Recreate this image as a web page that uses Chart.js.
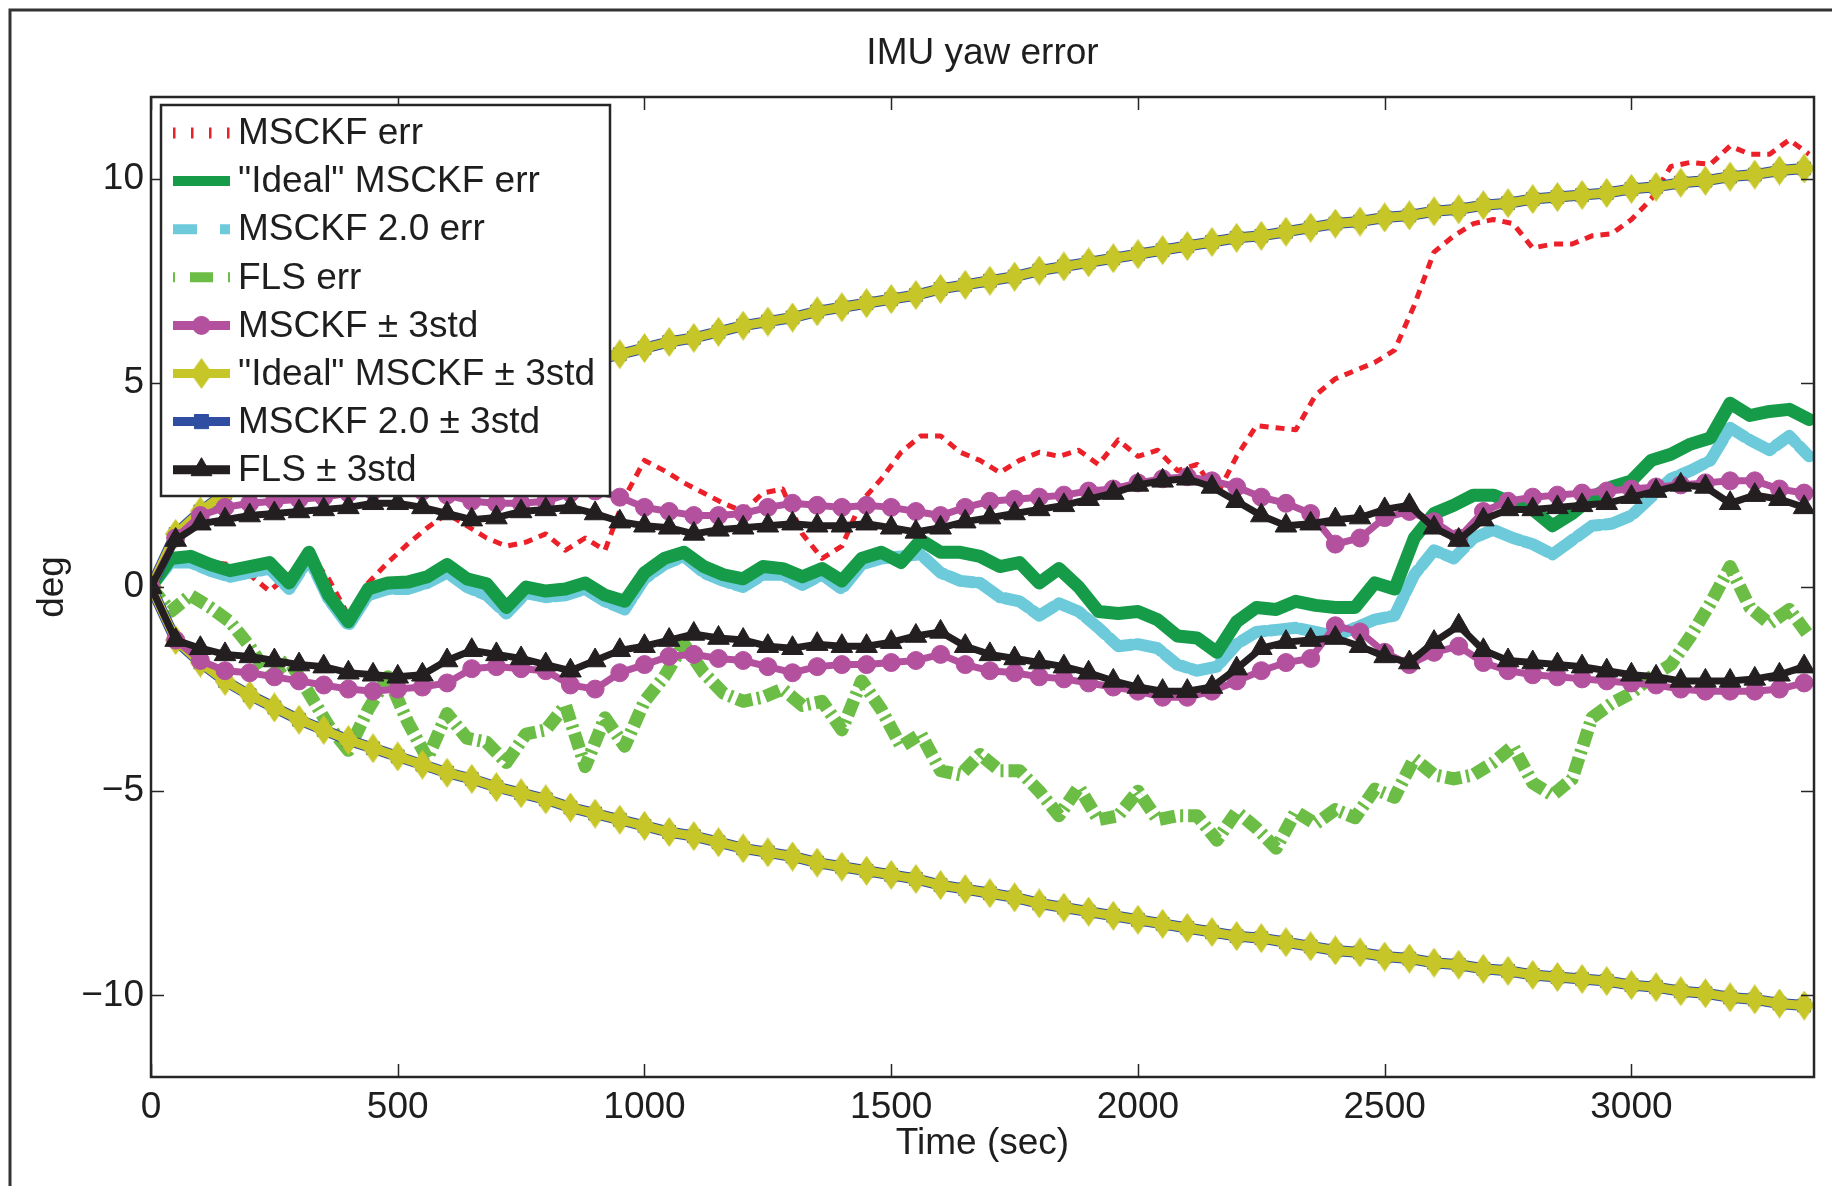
<!DOCTYPE html>
<html>
<head>
<meta charset="utf-8">
<title>IMU yaw error</title>
<script src="https://cdn.jsdelivr.net/npm/chart.js@4.4.1/dist/chart.umd.min.js"></script>
<style>
  html, body { margin: 0; padding: 0; background: #fff; }
  #wrap { width: 1832px; height: 1186px; position: relative; }
</style>
</head>
<body>
<div id="wrap"><canvas id="yawChart" width="1832" height="1186"></canvas></div>
<script>
// sample times in seconds: errors every 40 s, 3-sigma bounds every 50 s
const errTimes = Array.from({ length: 85 }, (_, i) => i * 40);
const stdTimes = Array.from({ length: 68 }, (_, i) => i * 50);

const xTicks = [0, 500, 1000, 1500, 2000, 2500, 3000];
const yTicks = [-10, -5, 0, 5, 10];

// yaw errors (deg)
const msckfErr = [
  0, 0.6, 0.7, 0.6, 0.55, 0.3, -0.1, 0.3, 0.8, 0.2,
  -0.7, 0.1, 0.6, 1.05, 1.45, 1.8, 1.5, 1.2, 1.0, 1.1,
  1.3, 0.9, 1.2, 0.9, 2.2, 3.1, 2.85, 2.55, 2.3, 2.05,
  1.85, 2.3, 2.4, 1.3, 0.7, 1.0, 2.1, 2.65, 3.3, 3.7,
  3.7, 3.3, 3.1, 2.8, 3.1, 3.3, 3.2, 3.35, 3.0, 3.6,
  3.2, 3.35, 2.85, 3.0, 2.25, 3.2, 3.95, 3.9, 3.85, 4.7,
  5.1, 5.3, 5.5, 5.8, 6.9, 8.2, 8.6, 8.9, 9.0, 8.9,
  8.3, 8.4, 8.4, 8.6, 8.65, 9.0, 9.5, 10.3, 10.4, 10.35,
  10.8, 10.6, 10.6, 10.95, 10.6
];
const idealErr = [
  0, 0.7, 0.75, 0.55, 0.4, 0.5, 0.6, 0.1, 0.85, -0.2,
  -0.85, -0.05, 0.1, 0.12, 0.25, 0.55, 0.2, 0.08, -0.5, 0.0,
  -0.1, -0.05, 0.1, -0.2, -0.35, 0.35, 0.7, 0.85, 0.5, 0.3,
  0.2, 0.5, 0.45, 0.25, 0.45, 0.15, 0.7, 0.85, 0.6, 1.15,
  0.85, 0.85, 0.75, 0.5, 0.6, 0.1, 0.45, 0.0, -0.6, -0.65,
  -0.6, -0.8, -1.2, -1.25, -1.6, -0.85, -0.5, -0.55, -0.35, -0.45,
  -0.5, -0.5, 0.1, -0.05, 1.2, 1.8, 2.0, 2.25, 2.25, 2.05,
  1.9, 1.5, 1.8, 2.2, 2.45, 2.6, 3.1, 3.25, 3.5, 3.65,
  4.5, 4.2, 4.3, 4.35, 4.1
];
const msckf2Err = [
  0, 0.6, 0.6, 0.4, 0.25, 0.35, 0.45, -0.05, 0.7, -0.3,
  -0.95, -0.2, -0.05, -0.05, 0.1, 0.35, 0.0, -0.2, -0.65, -0.15,
  -0.25, -0.2, -0.05, -0.35, -0.55, 0.2, 0.55, 0.75, 0.35, 0.15,
  0.0, 0.3, 0.3, 0.05, 0.3, -0.05, 0.55, 0.7, 0.75, 0.8,
  0.35, 0.15, 0.1, -0.25, -0.35, -0.7, -0.4, -0.6, -1.0, -1.45,
  -1.4, -1.5, -1.9, -2.05, -1.95, -1.4, -1.1, -1.05, -1.0, -1.1,
  -1.2, -1.0, -0.8, -0.7, 0.3, 0.9, 0.7, 1.2, 1.4, 1.2,
  1.05, 0.8, 1.15, 1.5, 1.55, 1.75, 2.2, 2.65, 2.85, 3.1,
  3.9, 3.6, 3.35, 3.7, 3.2
];
const flsErr = [
  0, -0.6, -0.2, -0.5, -0.85, -1.45, -2.2, -1.8, -2.6, -3.4,
  -4.0, -3.0, -2.2, -3.3, -4.2, -3.1, -3.7, -3.8, -4.3, -3.6,
  -3.5, -2.9, -4.4, -3.2, -3.9, -2.8, -2.2, -1.4, -2.1, -2.6,
  -2.8, -2.7, -2.5, -2.9, -2.8, -3.5, -2.3, -3.0, -3.9, -3.6,
  -4.5, -4.6, -4.1, -4.5, -4.5, -5.0, -5.6, -4.9, -5.7, -5.6,
  -5.0, -5.7, -5.6, -5.6, -6.2, -5.5, -5.9, -6.4, -5.5, -5.8,
  -5.45, -5.65, -4.95, -5.15, -4.2, -4.6, -4.7, -4.6, -4.3, -3.9,
  -4.8, -5.1, -4.7, -3.2, -2.85, -2.6, -2.2, -1.9, -1.2, -0.4,
  0.5, -0.5, -0.9, -0.55, -1.2
];

// +/- 3 std bounds (deg)
const msckfUp = [
  0, 1.2, 1.75, 1.95, 2.05, 2.1, 2.15, 2.2, 2.3, 2.35,
  2.4, 2.35, 2.25, 2.1, 2.05, 2.05, 2.1, 2.3, 2.35, 2.2,
  1.95, 1.85, 1.75, 1.75, 1.8, 1.95, 2.05, 2.0, 1.95, 2.0,
  1.95, 1.85, 1.75, 1.95, 2.1, 2.15, 2.2, 2.25, 2.35, 2.4,
  2.55, 2.65, 2.7, 2.6, 2.45, 2.2, 2.05, 1.8, 1.05, 1.2,
  1.7, 1.85, 1.6, 1.2, 1.85, 2.1, 2.2, 2.25, 2.3, 2.35,
  2.4, 2.45, 2.5, 2.55, 2.6, 2.6, 2.4, 2.3
];
const msckfLo = [
  0, -1.3, -1.8, -2.05, -2.1, -2.2, -2.3, -2.4, -2.5, -2.55,
  -2.5, -2.45, -2.35, -2.0, -1.95, -2.0, -2.05, -2.4, -2.5, -2.1,
  -1.9, -1.7, -1.65, -1.75, -1.8, -1.95, -2.1, -1.95, -1.9, -1.9,
  -1.85, -1.8, -1.65, -1.9, -2.05, -2.1, -2.2, -2.25, -2.35, -2.45,
  -2.55, -2.7, -2.7, -2.55, -2.3, -2.05, -1.85, -1.75, -0.95, -1.1,
  -1.6, -1.9, -1.6, -1.45, -1.85, -2.05, -2.15, -2.2, -2.25, -2.3,
  -2.35, -2.4, -2.5, -2.55, -2.55, -2.55, -2.5, -2.35
];
const idealStd = [
  0, 1.3, 1.85, 2.3, 2.65, 2.95, 3.25, 3.5, 3.75, 3.95,
  4.15, 4.35, 4.55, 4.7, 4.9, 5.05, 5.2, 5.4, 5.55, 5.7,
  5.85, 6.0, 6.1, 6.25, 6.4, 6.5, 6.6, 6.75, 6.85, 6.95,
  7.05, 7.15, 7.3, 7.4, 7.5, 7.6, 7.75, 7.85, 7.95, 8.05,
  8.15, 8.25, 8.35, 8.45, 8.55, 8.6, 8.7, 8.8, 8.9, 8.95,
  9.05, 9.1, 9.2, 9.25, 9.35, 9.4, 9.5, 9.55, 9.6, 9.65,
  9.75, 9.8, 9.9, 9.95, 10.05, 10.1, 10.2, 10.25
];
const msckf2Std = [
  0, 1.3, 1.85, 2.3, 2.65, 2.95, 3.25, 3.5, 3.75, 3.95,
  4.15, 4.35, 4.55, 4.7, 4.9, 5.05, 5.2, 5.4, 5.55, 5.7,
  5.85, 6.0, 6.1, 6.25, 6.4, 6.5, 6.6, 6.75, 6.85, 6.95,
  7.05, 7.15, 7.3, 7.4, 7.5, 7.6, 7.75, 7.85, 7.95, 8.05,
  8.15, 8.25, 8.35, 8.45, 8.55, 8.6, 8.7, 8.8, 8.9, 8.95,
  9.05, 9.1, 9.2, 9.25, 9.35, 9.4, 9.5, 9.55, 9.6, 9.65,
  9.75, 9.8, 9.9, 9.95, 10.05, 10.1, 10.2, 10.25
];
const flsUp = [
  0, 1.15, 1.55, 1.65, 1.75, 1.8, 1.85, 1.9, 1.95, 2.05,
  2.05, 1.95, 1.8, 1.65, 1.7, 1.85, 1.9, 1.95, 1.8, 1.6,
  1.5, 1.45, 1.3, 1.4, 1.45, 1.5, 1.55, 1.5, 1.5, 1.55,
  1.45, 1.35, 1.45, 1.6, 1.7, 1.8, 1.9, 2.0, 2.15, 2.3,
  2.5, 2.6, 2.65, 2.45, 2.1, 1.75, 1.5, 1.55, 1.65, 1.7,
  1.9, 2.0, 1.45, 1.15, 1.65, 1.9, 1.9, 1.95, 2.0, 2.05,
  2.2, 2.35, 2.5, 2.45, 2.05, 2.25, 2.15, 1.95
];
const flsLo = [
  0, -1.3, -1.5, -1.65, -1.7, -1.8, -1.9, -1.95, -2.1, -2.15,
  -2.2, -2.15, -1.8, -1.55, -1.65, -1.75, -1.9, -2.05, -1.8, -1.55,
  -1.45, -1.3, -1.15, -1.25, -1.3, -1.45, -1.5, -1.4, -1.45, -1.45,
  -1.35, -1.2, -1.1, -1.45, -1.65, -1.75, -1.85, -1.95, -2.1, -2.3,
  -2.45, -2.55, -2.55, -2.45, -2.0, -1.5, -1.35, -1.3, -1.25, -1.45,
  -1.7, -1.85, -1.35, -0.95, -1.55, -1.8, -1.85, -1.9, -1.95, -2.05,
  -2.15, -2.2, -2.3, -2.3, -2.3, -2.25, -2.15, -1.95
];

const legendLabels = [
  'MSCKF err',
  '"Ideal" MSCKF err',
  'MSCKF 2.0 err',
  'FLS err',
  'MSCKF \u00b1 3std',
  '"Ideal" MSCKF \u00b1 3std',
  'MSCKF 2.0 \u00b1 3std',
  'FLS \u00b1 3std'
];

const FONT = "'Liberation Sans', Arial, Helvetica, sans-serif";
const FSIZE = 37;
const TEXT = '#1e1e1e';
const C = {
  red: '#ec2028',
  green: '#169b48',
  cyan: '#6ccadb',
  lime: '#6cbd45',
  magenta: '#b4519f',
  olive: '#c6c628',
  blue: '#2f4ea1',
  black: '#231f20'
};

// tall diamond marker, like the stretched Matlab 'd' marker of the figure
function diamond(color, w, h) {
  const c = document.createElement('canvas');
  c.width = w; c.height = h;
  const g = c.getContext('2d');
  g.fillStyle = color;
  g.beginPath();
  g.moveTo(w / 2, 0); g.lineTo(w, h / 2); g.lineTo(w / 2, h); g.lineTo(0, h / 2);
  g.closePath();
  g.fill();
  return c;
}
const diamondMark = diamond(C.olive, 21, 30);
const diamondLegend = diamond(C.olive, 22, 31);

const pts = (ts, vs) => vs.map((v, i) => ({ x: ts[i], y: v }));
const neg = vs => vs.map(v => -v);

function errSet(data, color, width, dash, cap, order) {
  return {
    data: pts(errTimes, data),
    borderColor: color,
    borderWidth: width,
    borderDash: dash,
    borderCapStyle: cap,
    borderJoinStyle: 'round',
    pointRadius: 0,
    tension: 0,
    order: order
  };
}
function stdSet(data, color, style, radius, width, order) {
  return {
    data: pts(stdTimes, data),
    borderColor: color,
    borderWidth: width,
    pointStyle: style,
    pointRadius: radius,
    pointBackgroundColor: color,
    pointBorderColor: color,
    pointBorderWidth: 1,
    tension: 0,
    order: order
  };
}

const datasets = [
  errSet(flsErr, C.lime, 13, [16, 5, 3, 5], 'butt', 8),
  errSet(msckfErr, C.red, 5, [9, 7], 'butt', 7),
  errSet(msckf2Err, C.cyan, 12, [26, 5], 'round', 6),
  errSet(idealErr, C.green, 13, [], 'round', 5),
  stdSet(msckf2Std, C.blue, 'rect', 9, 11, 4),
  stdSet(neg(msckf2Std), C.blue, 'rect', 9, 11, 4),
  stdSet(idealStd, C.olive, diamondMark, 10, 9, 3),
  stdSet(neg(idealStd), C.olive, diamondMark, 10, 9, 3),
  stdSet(msckfUp, C.magenta, 'circle', 9, 7, 2),
  stdSet(msckfLo, C.magenta, 'circle', 9, 7, 2),
  stdSet(flsUp, C.black, 'triangle', 12.5, 7, 1),
  stdSet(flsLo, C.black, 'triangle', 12.5, 7, 1)
];

const fmt = v => (v < 0 ? '\u2212' + Math.abs(v) : String(v));

// box around the axes, inward ticks on all four sides, and the outer figure frame
const axesBox = {
  id: 'axesBox',
  afterDatasetsDraw(chart) {
    const { ctx, chartArea: a, scales: { x, y } } = chart;
    ctx.save();
    ctx.strokeStyle = '#262626';
    ctx.lineWidth = 1.5;
    ctx.beginPath();
    xTicks.forEach(v => {
      const px = Math.round(x.getPixelForValue(v)) + 0.5;
      ctx.moveTo(px, a.bottom); ctx.lineTo(px, a.bottom - 13);
      ctx.moveTo(px, a.top); ctx.lineTo(px, a.top + 13);
    });
    yTicks.forEach(v => {
      const py = Math.round(y.getPixelForValue(v)) + 0.5;
      ctx.moveTo(a.left, py); ctx.lineTo(a.left + 13, py);
      ctx.moveTo(a.right, py); ctx.lineTo(a.right - 13, py);
    });
    ctx.stroke();
    ctx.lineWidth = 2.5;
    ctx.strokeRect(a.left, a.top, a.right - a.left, a.bottom - a.top);
    ctx.strokeStyle = '#333';
    ctx.lineWidth = 3;
    ctx.beginPath();
    ctx.moveTo(10, chart.height); ctx.lineTo(10, 10); ctx.lineTo(chart.width, 10);
    ctx.stroke();
    ctx.restore();
  }
};

// Matlab style legend box in the upper left corner
const boxLegend = {
  id: 'boxLegend',
  afterDraw(chart) {
    const ctx = chart.ctx;
    const left = 161, top = 105, right = 610, bottom = 496;
    const x0 = 173, x1 = 230, tx = 238, y0 = 133, step = 48.1;
    const cx = (x0 + x1) / 2;
    ctx.save();
    ctx.fillStyle = '#fff';
    ctx.fillRect(left, top, right - left, bottom - top);
    ctx.strokeStyle = '#262626';
    ctx.lineWidth = 2.5;
    ctx.strokeRect(left, top, right - left, bottom - top);

    const line = (y, color, width, dash) => {
      ctx.beginPath();
      ctx.setLineDash(dash);
      ctx.lineCap = 'butt';
      ctx.strokeStyle = color;
      ctx.lineWidth = width;
      ctx.moveTo(x0, y); ctx.lineTo(x1, y);
      ctx.stroke();
      ctx.setLineDash([]);
    };
    const marker = (y, color, style, r) => {
      ctx.fillStyle = color;
      ctx.strokeStyle = color;
      ctx.lineWidth = 1;
      Chart.helpers.drawPoint(ctx, { pointStyle: style, radius: r, borderWidth: 1 }, cx, y);
    };

    const ys = legendLabels.map((_, i) => y0 + i * step);
    line(ys[0], C.red, 11, [2.5, 15.5]);
    line(ys[1], C.green, 10, []);
    line(ys[2], C.cyan, 10, [24, 23]);
    line(ys[3], C.lime, 10, [2, 15, 23, 15]);
    line(ys[4], C.magenta, 9, []); marker(ys[4], C.magenta, 'circle', 9);
    line(ys[5], C.olive, 9, []); marker(ys[5], C.olive, diamondLegend, 11);
    line(ys[6], C.blue, 9, []); marker(ys[6], C.blue, 'rect', 10);
    line(ys[7], C.black, 9, []); marker(ys[7], C.black, 'triangle', 12);

    ctx.fillStyle = TEXT;
    ctx.font = FSIZE + 'px ' + FONT;
    ctx.textAlign = 'left';
    ctx.textBaseline = 'middle';
    legendLabels.forEach((t, i) => ctx.fillText(t, tx, ys[i] + 1));
    ctx.restore();
  }
};

const textFont = { family: FONT, size: FSIZE, weight: 'normal' };

new Chart(document.getElementById('yawChart'), {
  type: 'line',
  data: { datasets: datasets },
  options: {
    responsive: false,
    devicePixelRatio: 1,
    animation: false,
    events: [],
    layout: { padding: { top: 0, right: 18, bottom: 0, left: 0 } },
    plugins: {
      legend: { display: false },
      tooltip: { enabled: false },
      title: {
        display: true,
        text: 'IMU yaw error',
        fullSize: false,
        color: TEXT,
        font: textFont,
        padding: { top: 32, bottom: 20.6 }
      }
    },
    scales: {
      x: {
        type: 'linear',
        min: 0,
        max: 3370,
        afterBuildTicks: s => { s.ticks = xTicks.map(v => ({ value: v })); },
        afterFit: s => { s.height = 109; },
        grid: { display: false, drawTicks: false },
        border: { display: false },
        ticks: {
          autoSkip: false,
          maxRotation: 0,
          padding: 9,
          color: TEXT,
          font: textFont,
          callback: v => fmt(v)
        },
        title: {
          display: true,
          text: 'Time (sec)',
          color: TEXT,
          font: textFont,
          padding: { top: 0, bottom: 20 }
        }
      },
      y: {
        type: 'linear',
        min: -12,
        max: 12,
        afterBuildTicks: s => { s.ticks = yTicks.map(v => ({ value: v })); },
        afterFit: s => { s.width = 151; },
        grid: { display: false, drawTicks: false },
        border: { display: false },
        ticks: {
          padding: 7,
          color: TEXT,
          font: textFont,
          callback: v => fmt(v)
        },
        title: {
          display: true,
          text: 'deg',
          color: TEXT,
          font: textFont,
          padding: { top: 31, bottom: 0 }
        }
      }
    }
  },
  plugins: [axesBox, boxLegend]
});
</script>
</body>
</html>
